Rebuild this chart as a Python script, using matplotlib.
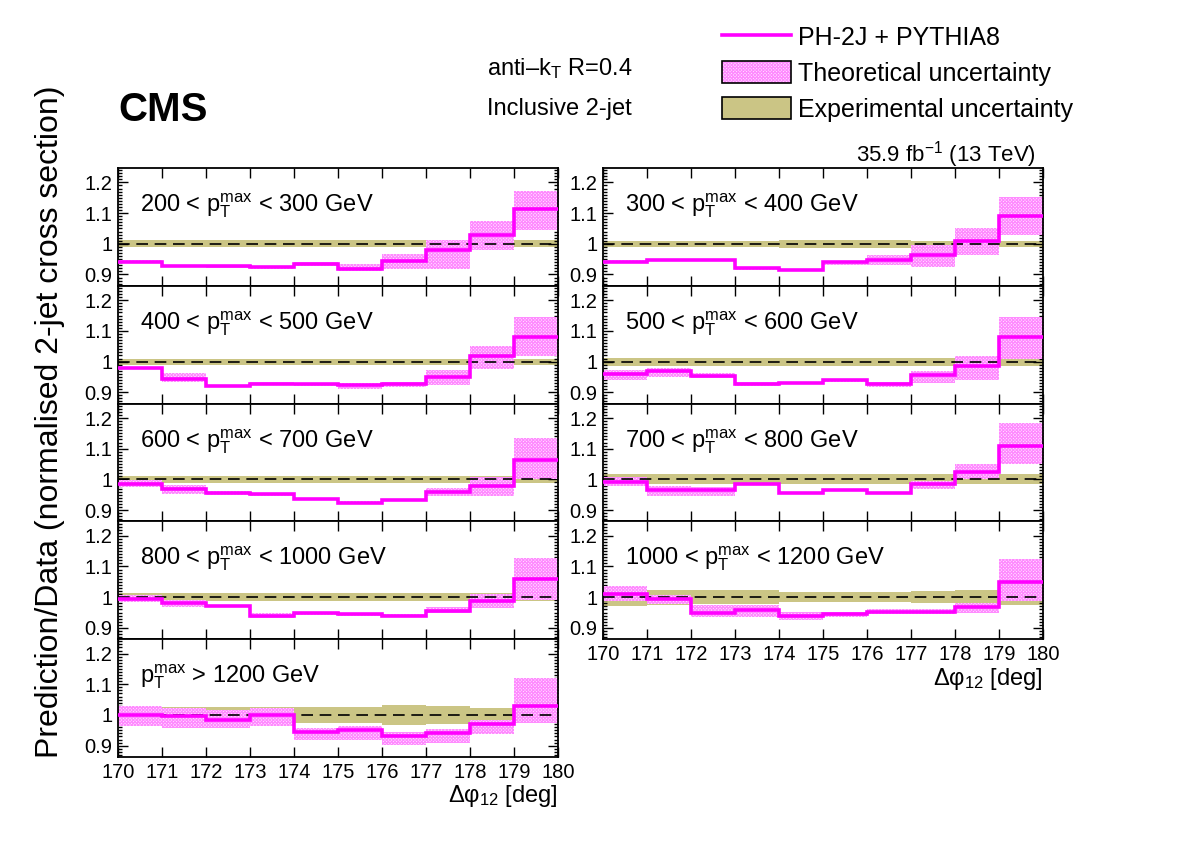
import numpy as np
import matplotlib
matplotlib.use("Agg")
import matplotlib.pyplot as plt
from matplotlib.lines import Line2D
from matplotlib.patches import Patch
from matplotlib.ticker import MultipleLocator, FuncFormatter

plt.rcParams['font.family'] = ['Liberation Sans', 'DejaVu Sans']
plt.rcParams['mathtext.fontset'] = 'custom'
plt.rcParams['mathtext.rm'] = 'Liberation Sans'
plt.rcParams['mathtext.it'] = 'Liberation Sans:italic'
plt.rcParams['mathtext.bf'] = 'Liberation Sans:bold'
plt.rcParams['hatch.linewidth'] = 0.8

# bin edges in delta phi_12 (deg)
edges = np.arange(170, 181, 1)

# pT^max ranges, one per panel
labels = ["200 < $\\mathrm{p}_{\\mathrm{T}}^{\\mathrm{max}}$ < 300 GeV",
          "300 < $\\mathrm{p}_{\\mathrm{T}}^{\\mathrm{max}}$ < 400 GeV",
          "400 < $\\mathrm{p}_{\\mathrm{T}}^{\\mathrm{max}}$ < 500 GeV",
          "500 < $\\mathrm{p}_{\\mathrm{T}}^{\\mathrm{max}}$ < 600 GeV",
          "600 < $\\mathrm{p}_{\\mathrm{T}}^{\\mathrm{max}}$ < 700 GeV",
          "700 < $\\mathrm{p}_{\\mathrm{T}}^{\\mathrm{max}}$ < 800 GeV",
          "800 < $\\mathrm{p}_{\\mathrm{T}}^{\\mathrm{max}}$ < 1000 GeV",
          "1000 < $\\mathrm{p}_{\\mathrm{T}}^{\\mathrm{max}}$ < 1200 GeV",
          "$\\mathrm{p}_{\\mathrm{T}}^{\\mathrm{max}}$ > 1200 GeV"]

# PH-2J + PYTHIA8 / data
pred_200 = [0.942, 0.927, 0.926, 0.923, 0.934, 0.919, 0.945, 0.980, 1.030, 1.112]
pred_300 = [0.942, 0.947, 0.947, 0.920, 0.914, 0.940, 0.948, 0.962, 1.008, 1.092]
pred_400 = [0.979, 0.943, 0.920, 0.928, 0.926, 0.923, 0.926, 0.950, 1.018, 1.081]
pred_500 = [0.959, 0.968, 0.953, 0.928, 0.931, 0.939, 0.927, 0.957, 0.984, 1.081]
pred_600 = [0.986, 0.969, 0.957, 0.952, 0.936, 0.924, 0.932, 0.958, 0.980, 1.063]
pred_700 = [0.992, 0.966, 0.965, 0.985, 0.955, 0.965, 0.957, 0.985, 1.023, 1.110]
pred_800 = [0.995, 0.982, 0.971, 0.940, 0.947, 0.944, 0.940, 0.955, 0.989, 1.060]
pred_1000 = [1.011, 0.993, 0.950, 0.957, 0.940, 0.945, 0.953, 0.953, 0.969, 1.049]
pred_1200 = [1.000, 0.998, 0.985, 1.000, 0.945, 0.952, 0.930, 0.941, 0.972, 1.030]

# theoretical uncertainty band (upper / lower)
th_hi_200 = [0.946, 0.931, 0.930, 0.927, 0.940, 0.935, 0.966, 1.013, 1.074, 1.172]
th_lo_200 = [0.938, 0.923, 0.922, 0.919, 0.928, 0.910, 0.918, 0.918, 0.980, 1.046]
th_hi_300 = [0.946, 0.951, 0.951, 0.924, 0.918, 0.944, 0.964, 0.997, 1.052, 1.153]
th_lo_300 = [0.938, 0.943, 0.943, 0.916, 0.910, 0.931, 0.931, 0.925, 0.962, 1.030]
th_hi_400 = [0.983, 0.962, 0.924, 0.932, 0.930, 0.929, 0.932, 0.973, 1.051, 1.146]
th_lo_400 = [0.975, 0.934, 0.916, 0.924, 0.922, 0.912, 0.917, 0.923, 0.977, 1.018]
th_hi_500 = [0.973, 0.979, 0.962, 0.932, 0.935, 0.943, 0.933, 0.968, 1.018, 1.146]
th_lo_500 = [0.940, 0.951, 0.945, 0.922, 0.927, 0.935, 0.917, 0.929, 0.940, 1.007]
th_hi_600 = [0.997, 0.983, 0.962, 0.956, 0.940, 0.928, 0.936, 0.971, 1.008, 1.134]
th_lo_600 = [0.975, 0.953, 0.950, 0.946, 0.932, 0.920, 0.928, 0.946, 0.947, 1.002]
th_hi_700 = [1.007, 0.978, 0.976, 0.989, 0.959, 0.969, 0.960, 0.996, 1.050, 1.185]
th_lo_700 = [0.977, 0.946, 0.945, 0.981, 0.951, 0.961, 0.953, 0.968, 1.000, 1.050]
th_hi_800 = [1.007, 0.991, 0.975, 0.947, 0.951, 0.948, 0.944, 0.969, 1.011, 1.129]
th_lo_800 = [0.985, 0.969, 0.967, 0.931, 0.943, 0.940, 0.936, 0.947, 0.964, 0.990]
th_hi_1000 = [1.035, 1.008, 0.974, 0.974, 0.951, 0.952, 0.960, 0.960, 0.980, 1.123]
th_lo_1000 = [0.986, 0.978, 0.935, 0.935, 0.926, 0.935, 0.945, 0.945, 0.947, 0.986]
th_hi_1200 = [1.028, 1.023, 1.017, 1.023, 0.957, 0.963, 0.944, 0.954, 0.983, 1.120]
th_lo_1200 = [0.963, 0.957, 0.957, 0.965, 0.918, 0.918, 0.902, 0.909, 0.937, 0.974]

# experimental uncertainty (half width around 1)
exp_200 = [0.012] * 10
exp_300 = [0.010, 0.010, 0.010, 0.010, 0.013, 0.013, 0.013, 0.010, 0.010, 0.010]
exp_400 = [0.010] * 10
exp_500 = [0.013] * 10
exp_600 = [0.011] * 10
exp_700 = [0.016] * 10
exp_800 = [0.013] * 10
exp_1000 = [0.030, 0.024, 0.022, 0.022, 0.017, 0.017, 0.017, 0.020, 0.024, 0.024]
exp_1200 = [0.030, 0.027, 0.027, 0.027, 0.027, 0.027, 0.033, 0.030, 0.024, 0.027]

preds = [pred_200, pred_300, pred_400, pred_500, pred_600, pred_700, pred_800, pred_1000, pred_1200]
th_his = [th_hi_200, th_hi_300, th_hi_400, th_hi_500, th_hi_600, th_hi_700, th_hi_800, th_hi_1000, th_hi_1200]
th_los = [th_lo_200, th_lo_300, th_lo_400, th_lo_500, th_lo_600, th_lo_700, th_lo_800, th_lo_1000, th_lo_1200]
exps = [exp_200, exp_300, exp_400, exp_500, exp_600, exp_700, exp_800, exp_1000, exp_1200]

MAGENTA = '#ff00ff'
PINK = '#ff88ff'
PINK_BG = '#ffe6ff'
OLIVE = '#cbc585'
HATCH = 'x' * 10

W, H = 1182, 846
fig = plt.figure(figsize=(W / 100, H / 100), dpi=100)

col_x = [118, 603]
ax_w = 440
top0 = 168
row_h = 117.8

def panel_rect(i):
    col = i % 2
    row = i // 2
    top = top0 + row * row_h
    return [col_x[col] / W, 1 - (top + row_h) / H, ax_w / W, row_h / H]

for i in range(9):
    ax = fig.add_axes(panel_rect(i))
    pred = np.array(preds[i])
    ex = np.array(exps[i])
    ax.stairs(1 + ex, edges, baseline=1 - ex, fill=True, color=OLIVE, lw=0, zorder=1)
    ax.stairs(th_his[i], edges, baseline=th_los[i], fill=True, facecolor=PINK_BG,
              edgecolor=PINK, hatch=HATCH, lw=0, zorder=2)
    ax.axhline(1.0, color='black', lw=1.2, ls=(0, (7, 4)), zorder=3)
    ax.stairs(pred, edges, baseline=None, color=MAGENTA, lw=2.6, zorder=4)

    ax.set_xlim(170, 180)
    ax.set_ylim(0.863, 1.247)
    ax.xaxis.set_major_locator(MultipleLocator(1))
    ax.yaxis.set_major_locator(MultipleLocator(0.1))
    ax.yaxis.set_minor_locator(MultipleLocator(0.01))
    ax.yaxis.set_major_formatter(FuncFormatter(lambda v, p: '%g' % round(v, 2)))
    ax.tick_params(which='both', direction='in', top=True, right=True, labelsize=14.5, width=1.0)
    ax.tick_params(which='major', length=7, pad=4)
    ax.tick_params(which='minor', length=3)
    for s in ax.spines.values():
        s.set_linewidth(1.3)

    bottom = (i == 7) or (i == 8)
    if not bottom:
        ax.set_xticklabels([])
    else:
        ax.text(1.0, -0.385, "Δφ$_{\\mathrm{12}}$ [deg]", transform=ax.transAxes,
                ha='right', va='baseline', fontsize=17)

    ax.text(0.05, 0.63, labels[i], transform=ax.transAxes, ha='left', va='baseline', fontsize=17)

fig.text(118 / W, 1 - 121 / H, "CMS", fontsize=29, fontweight='bold', ha='left', va='baseline')
fig.text(487 / W, 1 - 75 / H, "anti–k$_{\\mathrm{T}}$ R=0.4", fontsize=17, ha='left', va='baseline')
fig.text(487 / W, 1 - 115 / H, "Inclusive 2-jet", fontsize=17, ha='left', va='baseline')
fig.text(1036 / W, 1 - 161 / H, "35.9 fb$^{\\mathrm{-1}}$ (13 TeV)", fontsize=16, ha='right', va='baseline')
fig.text(50 / W, 1 - 422 / H, "Prediction/Data (normalised 2-jet cross section)",
         rotation=90, fontsize=23, ha='center', va='center')

h_line = Line2D([], [], color=MAGENTA, lw=2.6)
h_th = (Patch(facecolor=PINK_BG, edgecolor=PINK, hatch=HATCH, lw=0),
        Patch(fill=False, edgecolor='black', lw=1.2))
h_exp = Patch(facecolor=OLIVE, edgecolor='black', lw=1.2)
fig.legend([h_line, h_th, h_exp],
           ["PH-2J + PYTHIA8", "Theoretical uncertainty", "Experimental uncertainty"],
           loc='upper left', bbox_to_anchor=(722 / W, 1 - 25 / H), frameon=False,
           fontsize=18, handlelength=2.75, handleheight=1.0, labelspacing=0.45,
           handletextpad=0.3, borderpad=0, borderaxespad=0)

fig.savefig("out.png", dpi=100)
